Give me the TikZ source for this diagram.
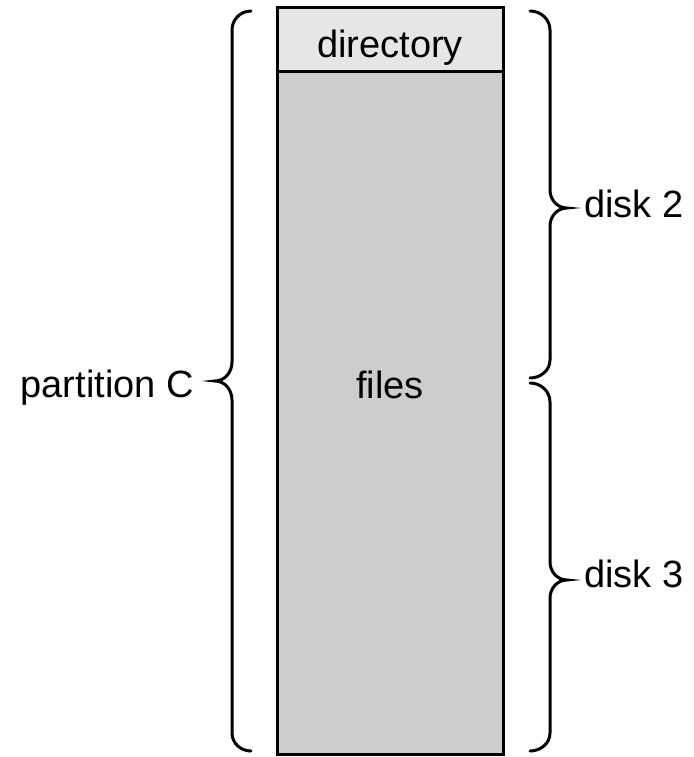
\documentclass[tikz,border=0pt]{standalone}
\usepackage{fontspec}
\setmainfont{Liberation Sans}
\usetikzlibrary{positioning, calc}
\definecolor{dirgray}{RGB}{230,230,230}
\definecolor{filegray}{RGB}{206,204,207}
\tikzset{
    block_dir/.style={rectangle, draw, line width=3pt, fill=dirgray, inner sep=0pt, outer sep=0pt},
    block_files/.style={rectangle, draw, line width=3pt, fill=filegray, inner sep=0pt, outer sep=0pt},
    lbl/.style={inner sep=0pt, font=\fontsize{38}{42}\selectfont},
    brace_line/.style={line width=3pt, line cap=round}
}

\begin{document}
\begin{tikzpicture}[x=1pt, y=-1pt]
			\useasboundingbox (0,0) rectangle (693,757);
			% the disk image: directory on top, files below
			\node (files) [block_files, minimum width=226pt, minimum height=682pt, anchor=north west] at (277,72) {};
			\node (dir) [block_dir, minimum width=226pt, minimum height=64pt, anchor=south west] at (files.north west) {};
			\node (dirtxt) [lbl, anchor=base] at (390,58) {directory};
			\node (filestxt) [lbl, anchor=base] at (390,398) {files};

			% partition brace on the left
			\draw [brace_line] (251,11) to[out=180,in=90] (232,30) -- (232,362)
				to[out=-90,in=0] (215,381) to[out=0,in=90] (232,400) -- (232,733)
				to[out=-90,in=180] (251,751);
			\node (part) [lbl, anchor=base east] at (194,397) {partition C};

			% disk braces on the right
			\draw [brace_line] (530,11) to[out=0,in=90] (550,30) -- (550,190)
				to[out=-90,in=180] (567,208) to[out=180,in=90] (550,226) -- (550,360)
				to[out=-90,in=0] (530,378);
			\draw [brace_line] (530,383) to[out=0,in=90] (550,402) -- (550,562)
				to[out=-90,in=180] (567,580) to[out=180,in=90] (550,598) -- (550,733)
				to[out=-90,in=0] (530,751);
			\node (d2) [lbl, anchor=base west] at (584,217) {disk 2};
			\node (d3) [lbl, anchor=base west] at (584,587) {disk 3};
\end{tikzpicture}
\end{document}
